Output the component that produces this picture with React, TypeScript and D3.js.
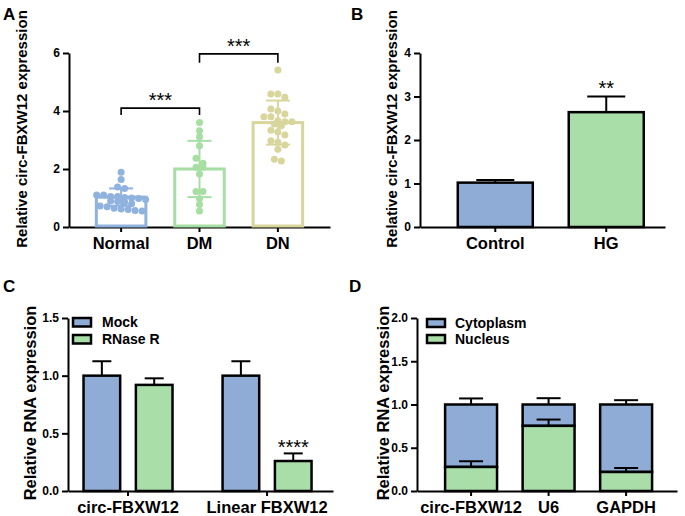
import React, { useEffect, useRef } from 'react';
import * as d3 from 'd3';

const FONT = '"Liberation Sans", Arial, Helvetica, sans-serif';
const BLUE = '#8eacd6';
const GREEN = '#a9dea9';

// ---- panel A: circ-FBXW12 in tissue groups (mean, SD and single points)
const groupsA = ['Normal', 'DM', 'DN'];
const colorsA = ['#8fb2de', '#a6dea4', '#d9d69d'];
const meanA = [1.03, 2.0, 3.6];
const sdA = [0.3, 0.97, 0.76];
const normalPts = [1.89, 1.64, 1.38, 1.33, 1.1, 1.05, 1.0, 1.05, 1.1, 1.02, 0.98, 0.95, 0.9, 0.85, 0.88, 0.8, 0.72, 0.7, 0.65, 0.6, 0.55, 0.57, 0.62];
const dmPts = [3.6, 3.32, 3.11, 2.8, 2.37, 2.2, 2.06, 2.06, 1.83, 1.22, 1.22, 0.97, 0.78, 0.55];
const dnPts = [5.41, 4.59, 4.47, 4.59, 4.0, 3.9, 4.07, 3.8, 3.66, 3.8, 3.55, 3.63, 3.63, 3.49, 3.34, 3.28, 3.17, 2.83, 2.97, 2.92, 2.68, 2.28, 2.34];
const pointsA = [normalPts, dmPts, dnPts];
const ticksA = [0, 2, 4, 6];
// comparisons: [from, to, bracket height, leg bottom, label]
const sigA: [string, string, number, number, string][] = [
  ['Normal', 'DM', 4.1, 3.86, '***'],
  ['DM', 'DN', 5.97, 5.66, '***'],
];

// ---- panel B: cell model
const groupsB = ['Control', 'HG'];
const colorsB = [BLUE, GREEN];
const meanB = [1.02, 2.64];
const errB = [0.06, 0.36];
const sigB = ['', '**'];
const ticksB = [0, 1, 2, 3, 4];

// ---- panel C: RNase R treatment
const genesC = ['circ-FBXW12', 'Linear FBXW12'];
const seriesC = ['Mock', 'RNase R'];
const mockC = [1.0, 1.0];
const rnaseC = [0.92, 0.26];
const mockErrC = [0.125, 0.125];
const rnaseErrC = [0.057, 0.066];
const sigC = ['', '****'];
const ticksC = [0, 0.5, 1.0, 1.5];

// ---- panel D: nuclear / cytoplasmic fractions
const genesD = ['circ-FBXW12', 'U6', 'GAPDH'];
const seriesD = ['Cytoplasm', 'Nucleus'];
const nucleusD = [0.278, 0.753, 0.22];
const cytoD = [0.722, 0.247, 0.78];
const nucleusErrD = [0.066, 0.073, 0.046];
const totalErrD = [0.07, 0.073, 0.05];
const ticksD = [0, 0.5, 1.0, 1.5, 2.0];

// scatter-dot layout: points that fall in the same row are set side by side
function swarm(vals: number[], y: (v: number) => number, step: number, rowH: number) {
  const out: { x: number; y: number }[] = new Array(vals.length);
  const order = vals.map((_, i) => i).sort((a, b) => vals[b] - vals[a]);
  let row: number[] = [];
  let rowY = -1e9;
  const flush = () => {
    row.forEach((idx, j) => {
      out[idx] = { x: (j - (row.length - 1) / 2) * step, y: y(vals[idx]) };
    });
    row = [];
  };
  for (const i of order) {
    const py = y(vals[i]);
    if (py - rowY > rowH) { flush(); rowY = py; }
    row.push(i);
  }
  flush();
  return out;
}

const ChartPanels = () => {
  const ref = useRef<SVGSVGElement>(null);

  useEffect(() => {
    if (!ref.current) return;
    const svg = d3.select(ref.current);
    svg.selectAll('*').remove();
    svg.style('font-family', FONT);

    const styleAxis = (g: any, fs: number) => {
      g.select('.domain').attr('stroke', '#000').attr('stroke-width', 2);
      g.selectAll('.tick line').attr('stroke', '#000').attr('stroke-width', 2);
      g.selectAll('.tick text').attr('fill', '#000').style('font-size', fs + 'px').style('font-weight', 'bold').style('font-family', FONT);
    };

    const yLabel = (x: number, y: number, text: string, fs: number) => {
      svg.append('text')
        .attr('transform', `translate(${x},${y}) rotate(-90)`)
        .attr('text-anchor', 'middle')
        .attr('dy', '0.35em')
        .style('font-size', fs + 'px').style('font-weight', 'bold')
        .text(text);
    };

    const panelLetter = (x: number, y: number, t: string) => {
      svg.append('text').attr('x', x).attr('y', y)
        .style('font-size', '17px').style('font-weight', 'bold').text(t);
    };

    panelLetter(3, 20, 'A');
    panelLetter(351, 20, 'B');
    panelLetter(3, 292, 'C');
    panelLetter(349, 292, 'D');

    // ================= A =================
    const xA = d3.scaleBand().domain(groupsA).range([69, 330]).paddingInner(0.33).paddingOuter(0.33);
    const yA = d3.scaleLinear().domain([0, 6]).range([227, 53]);
    const gA = svg.append('g');
    gA.append('g').attr('transform', 'translate(69,0)')
      .call(d3.axisLeft(yA).tickValues(ticksA).tickFormat(d3.format('d')).tickSize(6).tickSizeOuter(0).tickPadding(3))
      .call((g: any) => styleAxis(g, 12));
    gA.append('g').attr('transform', 'translate(0,227)')
      .call(d3.axisBottom(xA).tickSize(5).tickSizeOuter(0).tickPadding(5))
      .call((g: any) => styleAxis(g, 16.5));
    yLabel(22, 129, 'Relative circ-FBXW12 expression', 15);

    groupsA.forEach((grp, i) => {
      const cx = (xA(grp) as number) + xA.bandwidth() / 2;
      const c = colorsA[i];
      gA.append('rect')
        .attr('x', xA(grp) as number + 1.5).attr('y', yA(meanA[i]))
        .attr('width', xA.bandwidth() - 3).attr('height', yA(0) - yA(meanA[i]) - 1)
        .attr('fill', 'none').attr('stroke', c).attr('stroke-width', 3);
      const pts = swarm(pointsA[i], yA, 7, 5);
      gA.selectAll(null).data(pts).enter().append('circle')
        .attr('cx', (d) => cx + d.x).attr('cy', (d) => d.y).attr('r', 3.5).attr('fill', c);
      const lo = yA(meanA[i] - sdA[i]), hi = yA(meanA[i] + sdA[i]);
      gA.append('line').attr('x1', cx).attr('x2', cx).attr('y1', lo).attr('y2', hi).attr('stroke', c).attr('stroke-width', 2);
      [lo, hi].forEach((yy) => {
        gA.append('line').attr('x1', cx - 12).attr('x2', cx + 12).attr('y1', yy).attr('y2', yy).attr('stroke', c).attr('stroke-width', 2);
      });
    });

    sigA.forEach(([a, b, top, leg, lab]) => {
      const x1 = (xA(a) as number) + xA.bandwidth() / 2;
      const x2 = (xA(b) as number) + xA.bandwidth() / 2;
      gA.append('path')
        .attr('d', `M${x1},${yA(leg)}V${yA(top)}H${x2}V${yA(leg)}`)
        .attr('fill', 'none').attr('stroke', '#000').attr('stroke-width', 1.6);
      gA.append('text').attr('x', (x1 + x2) / 2).attr('y', yA(top) - 1)
        .attr('text-anchor', 'middle').style('font-size', '20px').text(lab);
    });

    // ================= B =================
    const xB = d3.scaleBand().domain(groupsB).range([420, 665]).paddingInner(0.324).paddingOuter(0.266).align(0.64);
    const yB = d3.scaleLinear().domain([0, 4]).range([227, 53]);
    const gB = svg.append('g');
    groupsB.forEach((grp, i) => {
      const x0 = xB(grp) as number;
      const cx = x0 + xB.bandwidth() / 2;
      gB.append('line').attr('x1', cx).attr('x2', cx).attr('y1', yB(meanB[i])).attr('y2', yB(meanB[i] + errB[i])).attr('stroke', '#000').attr('stroke-width', 2);
      gB.append('line').attr('x1', cx - 19).attr('x2', cx + 19).attr('y1', yB(meanB[i] + errB[i])).attr('y2', yB(meanB[i] + errB[i])).attr('stroke', '#000').attr('stroke-width', 2);
      gB.append('rect').attr('x', x0).attr('y', yB(meanB[i]))
        .attr('width', xB.bandwidth()).attr('height', yB(0) - yB(meanB[i]))
        .attr('fill', colorsB[i]).attr('stroke', '#000').attr('stroke-width', 2.5);
      if (sigB[i]) {
        gB.append('text').attr('x', cx).attr('y', yB(meanB[i] + errB[i]) - 2)
          .attr('text-anchor', 'middle').style('font-size', '20px').text(sigB[i]);
      }
    });
    gB.append('g').attr('transform', 'translate(420,0)')
      .call(d3.axisLeft(yB).tickValues(ticksB).tickFormat(d3.format('d')).tickSize(6).tickSizeOuter(0).tickPadding(3))
      .call((g: any) => styleAxis(g, 12));
    gB.append('g').attr('transform', 'translate(0,227)')
      .call(d3.axisBottom(xB).tickSize(5).tickSizeOuter(0).tickPadding(5))
      .call((g: any) => styleAxis(g, 16.5));
    yLabel(392, 129, 'Relative circ-FBXW12 expression', 15);

    // ================= C =================
    const xC = d3.scaleBand().domain(genesC).range([68, 333]).paddingInner(0.36).paddingOuter(0.133).align(0.42);
    const xCi = d3.scaleBand().domain(seriesC).range([0, xC.bandwidth()]).paddingInner(0.3).paddingOuter(0);
    const yC = d3.scaleLinear().domain([0, 1.5]).range([491, 318]);
    const gC = svg.append('g');
    const valsC = [mockC, rnaseC];
    const errsC = [mockErrC, rnaseErrC];
    const colsC = [BLUE, GREEN];
    genesC.forEach((gene, gi) => {
      seriesC.forEach((s, si) => {
        const x0 = (xC(gene) as number) + (xCi(s) as number);
        const cx = x0 + xCi.bandwidth() / 2;
        const v = valsC[si][gi], e = errsC[si][gi];
        gC.append('line').attr('x1', cx).attr('x2', cx).attr('y1', yC(v)).attr('y2', yC(v + e)).attr('stroke', '#000').attr('stroke-width', 2);
        gC.append('line').attr('x1', cx - 9.5).attr('x2', cx + 9.5).attr('y1', yC(v + e)).attr('y2', yC(v + e)).attr('stroke', '#000').attr('stroke-width', 2);
        gC.append('rect').attr('x', x0).attr('y', yC(v))
          .attr('width', xCi.bandwidth()).attr('height', yC(0) - yC(v))
          .attr('fill', colsC[si]).attr('stroke', '#000').attr('stroke-width', 2.5);
        if (si === 1 && sigC[gi]) {
          gC.append('text').attr('x', cx).attr('y', yC(v + e) + 1)
            .attr('text-anchor', 'middle').style('font-size', '20px').text(sigC[gi]);
        }
      });
    });
    gC.append('g').attr('transform', 'translate(68,0)')
      .call(d3.axisLeft(yC).tickValues(ticksC).tickFormat(d3.format('.1f')).tickSize(6).tickSizeOuter(0).tickPadding(3))
      .call((g: any) => styleAxis(g, 12));
    gC.append('g').attr('transform', 'translate(0,491)')
      .call(d3.axisBottom(xC).tickSize(5).tickSizeOuter(0).tickPadding(5))
      .call((g: any) => styleAxis(g, 16.5));
    yLabel(30, 403, 'Relative RNA expression', 16.5);
    seriesC.forEach((s, i) => {
      gC.append('rect').attr('x', 73).attr('y', 318 + i * 17).attr('width', 18).attr('height', 8.5)
        .attr('fill', colsC[i]).attr('stroke', '#000').attr('stroke-width', 2.5);
      gC.append('text').attr('x', 102).attr('y', 327 + i * 17)
        .style('font-size', '14px').style('font-weight', 'bold').text(s);
    });

    // ================= D =================
    const xD = d3.scaleBand().domain(genesD).range([417, 677]).paddingInner(0.33).paddingOuter(0.342).align(0.53);
    const yD = d3.scaleLinear().domain([0, 2]).range([491, 318]);
    const gD = svg.append('g');
    genesD.forEach((gene, i) => {
      const x0 = xD(gene) as number;
      const cx = x0 + xD.bandwidth() / 2;
      const total = nucleusD[i] + cytoD[i];
      const bar = (v: number, e: number) => {
        gD.append('line').attr('x1', cx).attr('x2', cx).attr('y1', yD(v)).attr('y2', yD(v + e)).attr('stroke', '#000').attr('stroke-width', 2);
        gD.append('line').attr('x1', cx - 12).attr('x2', cx + 12).attr('y1', yD(v + e)).attr('y2', yD(v + e)).attr('stroke', '#000').attr('stroke-width', 2);
      };
      bar(total, totalErrD[i]);
      gD.append('rect').attr('x', x0).attr('y', yD(total))
        .attr('width', xD.bandwidth()).attr('height', yD(nucleusD[i]) - yD(total))
        .attr('fill', BLUE).attr('stroke', '#000').attr('stroke-width', 2.5);
      gD.append('rect').attr('x', x0).attr('y', yD(nucleusD[i]))
        .attr('width', xD.bandwidth()).attr('height', yD(0) - yD(nucleusD[i]))
        .attr('fill', GREEN).attr('stroke', '#000').attr('stroke-width', 2.5);
      bar(nucleusD[i], nucleusErrD[i]);
    });
    gD.append('g').attr('transform', 'translate(417,0)')
      .call(d3.axisLeft(yD).tickValues(ticksD).tickFormat(d3.format('.1f')).tickSize(6).tickSizeOuter(0).tickPadding(3))
      .call((g: any) => styleAxis(g, 12));
    gD.append('g').attr('transform', 'translate(0,491)')
      .call(d3.axisBottom(xD).tickSize(5).tickSizeOuter(0).tickPadding(5))
      .call((g: any) => styleAxis(g, 16.5));
    yLabel(383, 403, 'Relative RNA expression', 16.5);
    const colsD = [BLUE, GREEN];
    seriesD.forEach((s, i) => {
      gD.append('rect').attr('x', 427).attr('y', 319 + i * 16).attr('width', 18).attr('height', 8)
        .attr('fill', colsD[i]).attr('stroke', '#000').attr('stroke-width', 2.5);
      gD.append('text').attr('x', 455).attr('y', 328 + i * 16)
        .style('font-size', '14px').style('font-weight', 'bold').text(s);
    });
  }, []);

  return (
    <svg ref={ref} width={685} height={516}
      style={{ position: 'absolute', left: 0, top: 0, background: '#fff' }} />
  );
};

export default function App() {
  return <ChartPanels />;
}
